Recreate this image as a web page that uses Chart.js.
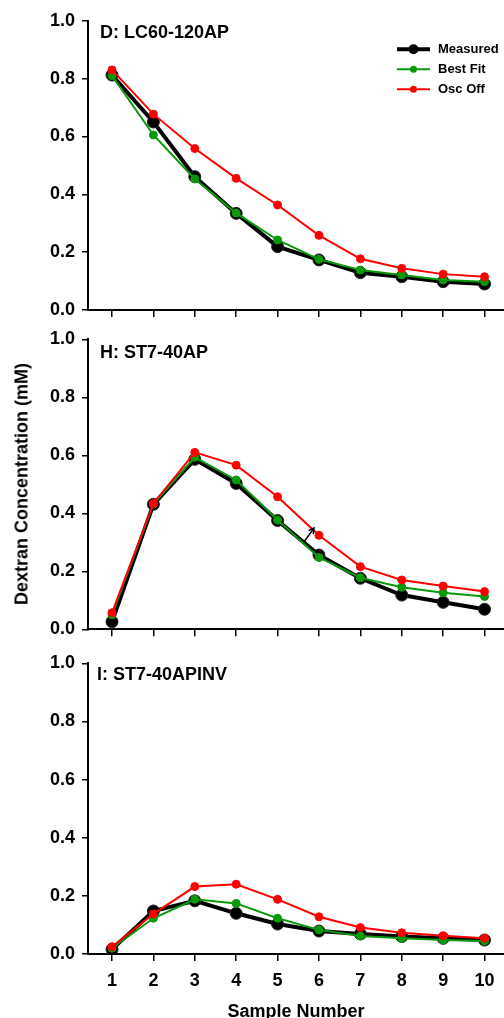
<!DOCTYPE html>
<html>
<head>
<meta charset="utf-8">
<script src="https://cdn.jsdelivr.net/npm/chart.js@4.4.1/dist/chart.umd.min.js"></script>
<style>
  html, body { margin: 0; padding: 0; background: #fff; }
  body { width: 504px; height: 1018px; position: relative; overflow: hidden; font-family: "Liberation Sans", Arial, sans-serif; }
  .panel { position: absolute; left: 0; width: 504px; }
  .ytitle { position: absolute; left: 22px; top: 484px; transform: translate(-50%, -50%) rotate(-90deg); font-weight: bold; font-size: 18px; white-space: nowrap; color: #000; }
  .xtitle { position: absolute; left: 296px; top: 1002px; line-height: 18px; transform: translateX(-50%); font-weight: bold; font-size: 18px; white-space: nowrap; color: #000; }
</style>
</head>
<body>
<div class="panel" style="top:0;height:330px"><canvas id="chartD"></canvas></div>
<div class="panel" style="top:320px;height:330px"><canvas id="chartH"></canvas></div>
<div class="panel" style="top:645px;height:373px"><canvas id="chartI"></canvas></div>
<div class="ytitle">Dextran Concentration (mM)</div>
<div class="xtitle">Sample Number</div>
<script>
// sample numbers on the x axis
const samples = [1, 2, 3, 4, 5, 6, 7, 8, 9, 10];
const yTicks = [0, 0.2, 0.4, 0.6, 0.8, 1.0];

// D: LC60-120AP
const measuredD = [0.812, 0.650, 0.461, 0.334, 0.219, 0.173, 0.129, 0.115, 0.098, 0.090];
const bestFitD  = [0.810, 0.605, 0.453, 0.335, 0.242, 0.175, 0.138, 0.121, 0.104, 0.098];
const oscOffD   = [0.830, 0.677, 0.558, 0.455, 0.363, 0.258, 0.177, 0.144, 0.124, 0.115];

// H: ST7-40AP
const measuredH = [0.026, 0.431, 0.586, 0.503, 0.375, 0.256, 0.176, 0.118, 0.093, 0.069];
const bestFitH  = [0.050, 0.432, 0.593, 0.515, 0.377, 0.248, 0.178, 0.145, 0.126, 0.113];
const oscOffH   = [0.057, 0.434, 0.610, 0.566, 0.457, 0.324, 0.216, 0.170, 0.149, 0.130];

// I: ST7-40APINV
const measuredI = [0.016, 0.148, 0.183, 0.140, 0.103, 0.079, 0.069, 0.060, 0.054, 0.048];
const bestFitI  = [0.020, 0.123, 0.188, 0.174, 0.123, 0.083, 0.062, 0.054, 0.048, 0.045];
const oscOffI   = [0.025, 0.138, 0.232, 0.240, 0.188, 0.128, 0.091, 0.073, 0.063, 0.054];

// arrow in panel H: [x, y] tail, [x, y] head (data units)
const arrowH = [[5.64, 0.302], [5.88, 0.349]];

const GREEN = '#0a990a';
const RED = '#ff0000';
const FONT = '"Liberation Sans", Arial, sans-serif';

function series(label, values, color, width, radius, order) {
    return {
        label, order,
        data: values.map((v, i) => ({ x: samples[i], y: v })),
        borderColor: color, backgroundColor: color, borderWidth: width,
        pointRadius: radius, pointBackgroundColor: color,
        pointBorderColor: color === '#000' ? '#222' : color, pointBorderWidth: 1,
        tension: 0,
    };
}

const panelLabel = {
    id: 'panelLabel',
    afterDraw(chart, args, opts) {
        const { ctx, chartArea } = chart;
        ctx.save();
        ctx.font = 'bold 18px ' + FONT;
        ctx.fillStyle = '#000';
        ctx.textBaseline = 'middle';
        ctx.fillText(opts.text, chartArea.left + opts.dx, chartArea.top + opts.dy);
        ctx.restore();
    }
};

const insideLegend = {
    id: 'insideLegend',
    afterDraw(chart, args, opts) {
        if (!opts.show) return;
        const { ctx, chartArea } = chart;
        const x0 = chartArea.right - 107, x1 = chartArea.right - 74;
        const items = [['Measured', '#000', 4, 5], ['Best Fit', GREEN, 2, 3.5], ['Osc Off', RED, 2, 3.5]];
        ctx.save();
        ctx.font = 'bold 13px ' + FONT;
        ctx.textBaseline = 'middle';
        items.forEach(([t, c, w, r], i) => {
            const y = chartArea.top + 28.5 + i * 20;
            ctx.strokeStyle = c; ctx.lineWidth = w;
            ctx.beginPath(); ctx.moveTo(x0, y); ctx.lineTo(x1, y); ctx.stroke();
            ctx.fillStyle = c;
            ctx.beginPath(); ctx.arc((x0 + x1) / 2, y, r, 0, Math.PI * 2); ctx.fill();
            ctx.fillStyle = '#000';
            ctx.fillText(t, x1 + 8, y);
        });
        ctx.restore();
    }
};

const arrowPlugin = {
    id: 'arrowNote',
    afterDatasetsDraw(chart, args, opts) {
        if (!opts.points) return;
        const { ctx, scales } = chart;
        const [a, b] = opts.points;
        const x0 = scales.x.getPixelForValue(a[0]), y0 = scales.y.getPixelForValue(a[1]);
        const x1 = scales.x.getPixelForValue(b[0]), y1 = scales.y.getPixelForValue(b[1]);
        const ang = Math.atan2(y1 - y0, x1 - x0);
        ctx.save();
        ctx.strokeStyle = '#000'; ctx.lineWidth = 1.5;
        ctx.beginPath(); ctx.moveTo(x0, y0); ctx.lineTo(x1, y1);
        ctx.moveTo(x1 - 6 * Math.cos(ang - 0.5), y1 - 6 * Math.sin(ang - 0.5));
        ctx.lineTo(x1, y1);
        ctx.lineTo(x1 - 6 * Math.cos(ang + 0.5), y1 - 6 * Math.sin(ang + 0.5));
        ctx.stroke();
        ctx.restore();
    }
};

function makePanel(id, label, labelDy, m, b, o, opts) {
    new Chart(document.getElementById(id), {
        type: 'line',
        data: {
            datasets: [
                series('Measured', m, '#000', 4, 6, 3),
                series('Best Fit', b, GREEN, 2, 4, 2),
                series('Osc Off', o, RED, 2, 4, 1),
            ]
        },
        options: {
            responsive: true, maintainAspectRatio: false, animation: false,
            layout: { autoPadding: false, padding: { top: opts.padTop, left: 0, right: 0, bottom: 0 } },
            plugins: {
                legend: { display: false }, tooltip: { enabled: false },
                panelLabel: { text: label, dx: opts.labelDx, dy: labelDy },
                insideLegend: { show: !!opts.legend },
                arrowNote: { points: opts.arrow },
            },
            scales: {
                x: {
                    type: 'linear', min: 0.42, max: 10.47,
                    afterBuildTicks: s => { s.ticks = samples.map(v => ({ value: v })); },
                    afterFit: s => { s.height = opts.xHeight; },
                    grid: { drawOnChartArea: false, drawTicks: true, tickLength: 7, color: '#000', lineWidth: 1.5 },
                    border: { display: true, color: '#000', width: 2 },
                    ticks: { display: !!opts.xLabels, color: '#000', padding: 9, font: { family: FONT, size: 18, weight: 'bold' }, maxRotation: 0 },
                },
                y: {
                    min: 0, max: 1,
                    afterBuildTicks: s => { s.ticks = yTicks.map(v => ({ value: v })); },
                    afterFit: s => { s.width = 88; },
                    grid: { drawOnChartArea: false, drawTicks: true, tickLength: 6, color: '#000', lineWidth: 1.5 },
                    border: { display: true, color: '#000', width: 2 },
                    ticks: { color: '#000', padding: 7, font: { family: FONT, size: 18, weight: 'bold' }, callback: v => v.toFixed(1) },
                }
            }
        },
        plugins: [panelLabel, insideLegend, arrowPlugin]
    });
}

makePanel('chartD', 'D: LC60-120AP', 12.5, measuredD, bestFitD, oscOffD, { padTop: 20.7, xHeight: 20, legend: true, labelDx: 12 });
makePanel('chartH', 'H: ST7-40AP', 13.4, measuredH, bestFitH, oscOffH, { padTop: 19.3, xHeight: 20.7, arrow: arrowH, labelDx: 12 });
makePanel('chartI', 'I: ST7-40APINV', 11.7, measuredI, bestFitI, oscOffI, { padTop: 18.3, xHeight: 64, xLabels: true, labelDx: 9 });
</script>
</body>
</html>
